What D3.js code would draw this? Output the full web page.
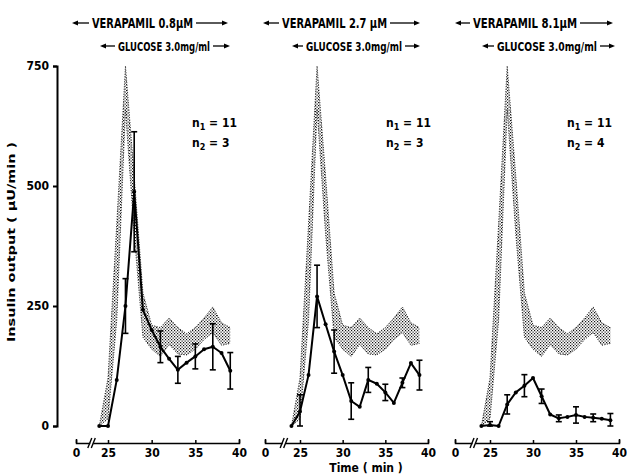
<!DOCTYPE html>
<html lang="en">
<head>
  <meta charset="UTF-8" />
  <title>Verapamil insulin output</title>
  <script src="https://d3js.org/d3.v7.min.js"></script>
  <style>
    html, body {
      margin: 0;
      padding: 0;
      background: #fff;
    }
    svg {
      display: block;
      font-family: 'DejaVu Sans Condensed', 'DejaVu Sans', sans-serif;
      font-weight: bold;
    }
  </style>
</head>
<body>
  <svg width="627" height="474"></svg>

  <script>
    // minutes sampled (one point per minute)
    const times = [24, 25, 26, 27, 28, 29, 30, 31, 32, 33, 34, 35, 36, 37, 38, 39];

    // control range (n1 = 11), stippled band
    const bandUpper = [0, 100, 420, 750, 520, 277, 210, 205, 225, 205, 192, 205, 225, 248, 215, 205];
    const bandLower = [0, 15, 220, 660, 400, 185, 160, 145, 170, 150, 148, 160, 180, 195, 168, 172];

    // verapamil series, mean and SEM (0 = no error bar drawn)
    const mean08 = [0, 0, 96, 250, 488, 242, 200, 165, 140, 117, 132, 145, 160, 165, 152, 115];
    const sem08  = [0, 0, 0, 57, 125, 0, 0, 33, 0, 28, 0, 26, 0, 48, 0, 38];
    const mean27 = [0, 30, 106, 270, 212, 155, 106, 52, 40, 96, 88, 70, 48, 90, 131, 106];
    const sem27  = [0, 35, 0, 65, 0, 45, 0, 38, 0, 26, 0, 17, 0, 10, 0, 31];
    const mean81 = [0, 2, 0, 45, 70, 84, 100, 62, 24, 16, 19, 23, 19, 17, 15, 12];
    const sem81  = [0, 7, 0, 20, 0, 23, 0, 15, 0, 7, 0, 17, 0, 8, 0, 14];

    const verapamilLabels = ["VERAPAMIL 0.8\u00b5M", "VERAPAMIL 2.7 \u00b5M", "VERAPAMIL 8.1\u00b5M"];
    const glucoseLabels = ["GLUCOSE 3.0mg/ml", "GLUCOSE 3.0mg/ml", "GLUCOSE 3.0mg/ml"];
    const n1Labels = ["11", "11", "11"];
    const n2Labels = ["3", "3", "4"];
    const xTicks = [0, 25, 30, 35, 40];
    const yTicks = [0, 250, 500, 750];

    const svg = d3.select("svg");

    // stipple texture for the control band
    const defs = svg.append("defs");
    const pat = defs.append("pattern")
      .attr("id", "stipple")
      .attr("patternUnits", "userSpaceOnUse")
      .attr("width", 3)
      .attr("height", 3);
    pat.append("rect").attr("x", 0).attr("y", 0).attr("width", 1.2).attr("height", 1.2).attr("fill", "#111");
    pat.append("rect").attr("x", 1.5).attr("y", 1.5).attr("width", 1.2).attr("height", 1.2).attr("fill", "#111");

    const y = d3.scaleLinear().domain([0, 750]).range([426, 66]);

    // y axis (only on the left)
    const yAxis = svg.append("g")
      .attr("transform", "translate(57,0)")
      .call(d3.axisLeft(y).tickValues(yTicks).tickSize(4).tickSizeOuter(4).tickPadding(4));
    yAxis.selectAll("path, line").attr("stroke", "#000").attr("stroke-width", 2);
    yAxis.selectAll("text")
      .attr("font-family", "'DejaVu Sans Condensed', sans-serif")
      .attr("font-weight", "bold")
      .attr("font-size", 12)
      .attr("fill", "#000");

    svg.append("text")
      .attr("transform", "translate(15,242) rotate(-90)")
      .attr("text-anchor", "middle")
      .attr("font-size", 11)
      .attr("textLength", 200)
      .attr("lengthAdjust", "spacingAndGlyphs")
      .text("Insulin output ( \u00b5U/min )");

    // panel layout: x of t=0, t=25, t=40
    const panels = [
      { x0: 76, x25: 108, x40: 239, mean: mean08, sem: sem08,
        ver: [72, 92, 193, 228], glu: [100, 118, 210, 230], nx: 192 },
      { x0: 265, x25: 300, x40: 428, mean: mean27, sem: sem27,
        ver: [263, 282, 387, 420], glu: [292, 306, 402, 420], nx: 386 },
      { x0: 455, x25: 490, x40: 619, mean: mean81, sem: sem81,
        ver: [455, 473, 577, 613], glu: [482, 497, 597, 615], nx: 567 }
    ];

    function arrow(g, x1, x2, yy) {
      // line from x1 to x2 with a head at x2
      const dir = x2 > x1 ? 1 : -1;
      g.append("line")
        .attr("x1", x1).attr("x2", x2 - dir * 4)
        .attr("y1", yy).attr("y2", yy)
        .attr("stroke", "#000").attr("stroke-width", 1.3);
      g.append("path")
        .attr("d", `M${x2},${yy} L${x2 - dir * 6},${yy - 2.5} L${x2 - dir * 6},${yy + 2.5} Z`)
        .attr("fill", "#000");
    }

    function header(g, pos, label, yy, size) {
      g.append("text")
        .attr("x", pos[1]).attr("y", yy + 5)
        .attr("font-size", size)
        .attr("textLength", pos[2] - pos[1])
        .attr("lengthAdjust", "spacingAndGlyphs")
        .text(label);
      arrow(g, pos[1] - 3, pos[0], yy);
      arrow(g, pos[2] + 3, pos[3], yy);
    }

    panels.forEach((p, i) => {
      const k = (p.x40 - p.x25) / 15;
      const x = d3.scaleLinear()
        .domain([0, 22.5, 25, 40])
        .range([p.x0, p.x25 - 2.5 * k, p.x25, p.x40]);
      const g = svg.append("g");

      // control band
      const band = times.map((t, j) => ({ t, hi: bandUpper[j], lo: bandLower[j] }));
      g.append("path")
        .datum(band)
        .attr("fill", "url(#stipple)")
        .attr("d", d3.area().x(d => x(d.t)).y0(d => y(d.lo)).y1(d => y(d.hi)));
      ["hi", "lo"].forEach(key => {
        g.append("path")
          .datum(band)
          .attr("fill", "none")
          .attr("stroke", "#222")
          .attr("stroke-width", 1)
          .attr("stroke-dasharray", "1,1.5")
          .attr("d", d3.line().x(d => x(d.t)).y(d => y(d[key])));
      });

      // series
      const pts = times.map((t, j) => ({ t, v: p.mean[j], e: p.sem[j] }));
      g.append("path")
        .datum(pts)
        .attr("fill", "none")
        .attr("stroke", "#000")
        .attr("stroke-width", 2)
        .attr("stroke-linejoin", "round")
        .attr("d", d3.line().x(d => x(d.t)).y(d => y(d.v)));

      const eb = g.selectAll(".err")
        .data(pts.filter(d => d.e > 0))
        .enter().append("g");
      eb.append("line")
        .attr("x1", d => x(d.t)).attr("x2", d => x(d.t))
        .attr("y1", d => y(d.v + d.e)).attr("y2", d => y(Math.max(0, d.v - d.e)))
        .attr("stroke", "#000").attr("stroke-width", 1.6);
      [1, -1].forEach(s => {
        eb.append("line")
          .attr("x1", d => x(d.t) - 3).attr("x2", d => x(d.t) + 3)
          .attr("y1", d => y(Math.max(0, d.v + s * d.e)))
          .attr("y2", d => y(Math.max(0, d.v + s * d.e)))
          .attr("stroke", "#000").attr("stroke-width", 1.6);
      });

      g.selectAll(".pt")
        .data(pts)
        .enter().append("circle")
        .attr("cx", d => x(d.t))
        .attr("cy", d => y(d.v))
        .attr("r", 2)
        .attr("fill", "#000");

      // x axis with break
      const ax = g.append("g")
        .attr("transform", "translate(0,443)")
        .call(d3.axisBottom(x).tickValues(xTicks).tickSize(-3).tickSizeOuter(-4).tickPadding(5));
      ax.selectAll("path, line").attr("stroke", "#000").attr("stroke-width", 1.5);
      ax.selectAll("text")
        .attr("font-family", "'DejaVu Sans Condensed', sans-serif")
        .attr("font-weight", "bold")
        .attr("font-size", 12)
        .attr("fill", "#000");
      const bx = p.x25 - 1.8 * k;
      g.append("rect")
        .attr("x", bx - 2).attr("y", 440).attr("width", 3).attr("height", 6)
        .attr("fill", "#fff");
      [-2.5, 1].forEach(dx => {
        g.append("line")
          .attr("x1", bx + dx - 2).attr("y1", 448)
          .attr("x2", bx + dx + 2).attr("y2", 438)
          .attr("stroke", "#000").attr("stroke-width", 1.4);
      });

      // headers
      header(g, p.ver, verapamilLabels[i], 23, 14);
      header(g, p.glu, glucoseLabels[i], 46, 13);

      // n annotations
      [[n1Labels[i], "1", 127], [n2Labels[i], "2", 147]].forEach(([val, sub, yy]) => {
        const t = g.append("text")
          .attr("x", p.nx).attr("y", yy)
          .attr("font-size", 12);
        t.append("tspan").text("n");
        t.append("tspan").attr("dy", 3).attr("font-size", 9).text(sub);
        t.append("tspan").attr("dy", -3).text(" = " + val);
      });
    });

    svg.append("text")
      .attr("x", 366).attr("y", 472)
      .attr("text-anchor", "middle")
      .attr("font-size", 12)
      .text("Time ( min )");
  </script>
</body>
</html>
